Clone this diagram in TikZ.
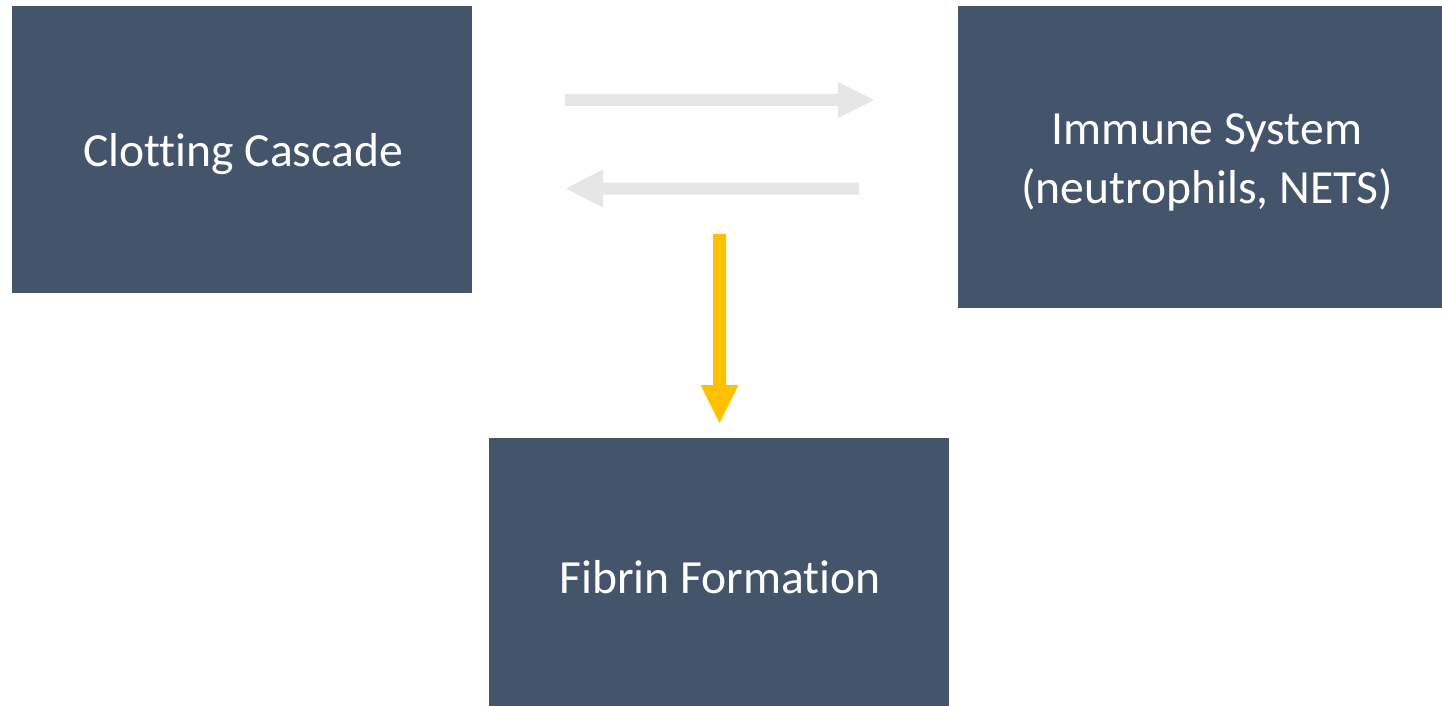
\documentclass[tikz,border=0pt]{standalone}
\usepackage{fontspec}
\setmainfont{Carlito}[Ligatures={NoCommon,NoRequired,NoContextual}]
\definecolor{boxblue}{HTML}{44546A}
\definecolor{arrgray}{HTML}{E7E6E6}
\definecolor{arryellow}{HTML}{FFC000}
\begin{document}
\begin{tikzpicture}[x=1pt,y=-1pt,
  blockbox/.style={fill=boxblue,draw=none,inner sep=0pt},
  blocktext/.style={text=white,align=center,font=\fontsize{47.6}{59}\selectfont,inner sep=0pt,yshift=-5pt}]
\useasboundingbox[fill=white] (0,0) rectangle (1442,706);
\node[blockbox,minimum width=460pt,minimum height=287pt] (clot) at (242,149.5) {};
\node[blocktext,xshift=1pt] (clott) at (clot.center) {Clotting Cascade};
\node[blockbox,minimum width=484pt,minimum height=302pt] (imm) at (1200,157) {};
\node[blocktext,xshift=7pt] (immt) at (imm.center) {Immune System\\(neutrophils, NETS)};
\node[blockbox,minimum width=460pt,minimum height=268pt] (fib) at (719,572) {};
\node[blocktext,xshift=1pt] (fibt) at (fib.center) {Fibrin Formation};
% arrows drawn as polygons
\coordinate (a1s) at (565,100);
\coordinate (a1e) at (874,100);
\fill[arrgray] (565,94) -- (838,94) -- (838,82) -- (a1e) -- (838,118) -- (838,106) -- (565,106) -- cycle;
\coordinate (a2s) at (859,188.5);
\coordinate (a2e) at (566,188.5);
\fill[arrgray] (859,182.5) -- (603,182.5) -- (603,169.5) -- (a2e) -- (603,207.5) -- (603,194.5) -- (859,194.5) -- cycle;
\coordinate (a3s) at (719.5,234);
\coordinate (a3e) at (719.5,423);
\fill[arryellow] (713,234) -- (713,385) -- (700.5,385) -- (a3e) -- (738.5,385) -- (726,385) -- (726,234) -- cycle;
\end{tikzpicture}
\end{document}
